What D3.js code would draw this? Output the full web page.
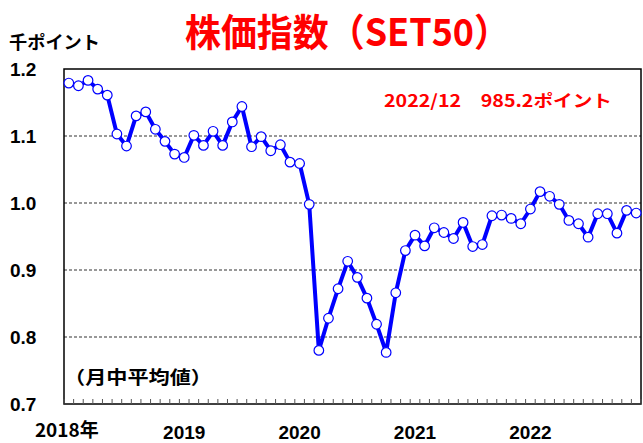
<!DOCTYPE html>
<html>
<head>
<meta charset="utf-8">
<script src="https://cdn.jsdelivr.net/npm/d3@7"></script>
<style>
  body { margin: 0; background: #fff; }
  text { font-family: "Liberation Sans", "Noto Sans CJK JP", sans-serif; font-weight: bold; }
</style>
</head>
<body>
<svg id="chart" width="643" height="443"></svg>
<script>
// monthly averages, thousand points, 2018/01 .. 2022/12
var values2018 = [1.179, 1.175, 1.183, 1.170, 1.161, 1.103, 1.085, 1.130, 1.136, 1.110, 1.092, 1.073];
var values2019 = [1.068, 1.101, 1.086, 1.107, 1.086, 1.121, 1.144, 1.084, 1.099, 1.078, 1.087, 1.061];
var values2020 = [1.059, 0.998, 0.780, 0.828, 0.872, 0.913, 0.889, 0.858, 0.819, 0.777, 0.866, 0.929];
var values2021 = [0.952, 0.936, 0.963, 0.956, 0.947, 0.971, 0.935, 0.938, 0.981, 0.982, 0.977, 0.969];
var values2022 = [0.991, 1.017, 1.010, 0.998, 0.974, 0.969, 0.949, 0.984, 0.984, 0.955, 0.989, 0.985];
var yearLabels = ["2018年", "2019", "2020", "2021", "2022"];
var yTicks = [0.7, 0.8, 0.9, 1.0, 1.1, 1.2];

var values = [].concat(values2018, values2019, values2020, values2021, values2022);
var months = d3.range(values.length);

var svg = d3.select("#chart");
var pLeft = 64, pRight = 641, pTop = 69, pBottom = 404;

var x = d3.scaleBand().domain(months).range([pLeft, pRight]);
var y = d3.scaleLinear().domain([0.7, 1.2]).range([pBottom, pTop]);

// title
svg.append("text")
  .attr("x", 185).attr("y", 46)
  .attr("fill", "#ff0000")
  .attr("textLength", 325)
  .attr("lengthAdjust", "spacingAndGlyphs")
  .style("font-family", "'Noto Sans CJK JP'")
  .style("font-size", "38px")
  .text("株価指数（SET50）");

svg.append("text")
  .attr("x", 9).attr("y", 49)
  .attr("textLength", 91)
  .attr("lengthAdjust", "spacingAndGlyphs")
  .style("font-family", "'Noto Sans CJK JP'")
  .style("font-size", "18px")
  .text("千ポイント");

// gridlines
svg.append("g").selectAll("line")
  .data(yTicks.filter(function(d){ return d > 0.75 && d < 1.15; }))
  .enter().append("line")
  .attr("x1", pLeft).attr("x2", pRight)
  .attr("y1", function(d){ return y(d); })
  .attr("y2", function(d){ return y(d); })
  .attr("stroke", "#777")
  .attr("stroke-width", 1.5)
  .attr("stroke-dasharray", "3,2");

// plot frame
svg.append("rect")
  .attr("x", pLeft).attr("y", pTop)
  .attr("width", pRight - pLeft).attr("height", pBottom - pTop)
  .attr("fill", "none")
  .attr("stroke", "#000")
  .attr("stroke-width", 1.5);

// month ticks on the bottom edge
svg.append("g").selectAll("line")
  .data(d3.range(values.length + 1))
  .enter().append("line")
  .attr("x1", function(d){ return pLeft + d * x.step(); })
  .attr("x2", function(d){ return pLeft + d * x.step(); })
  .attr("y1", pBottom).attr("y2", pBottom - 5)
  .attr("stroke", "#555")
  .attr("stroke-width", 1);

// y tick labels
svg.append("g").selectAll("text")
  .data(yTicks)
  .enter().append("text")
  .attr("x", 10)
  .attr("y", function(d){ return y(d) + 7; })
  .style("font-size", "19px")
  .text(function(d){ return d3.format(".1f")(d); });

// year labels at each January
svg.append("g").selectAll("text")
  .data(yearLabels)
  .enter().append("text")
  .attr("x", function(d, i){ return x(i * 12) + x.bandwidth() / 2 + (i === 0 ? -2 : 0); })
  .attr("y", function(d, i){ return i === 0 ? 437 : 439; })
  .attr("text-anchor", "middle")
  .style("font-family", function(d, i){ return i === 0 ? "'Noto Sans CJK JP'" : null; })
  .style("font-size", "19px")
  .text(function(d){ return d; });

// line + markers
var line = d3.line()
  .x(function(d, i){ return x(i) + x.bandwidth() / 2; })
  .y(function(d){ return y(d); });

svg.append("path")
  .datum(values)
  .attr("d", line)
  .attr("fill", "none")
  .attr("stroke", "#0000ff")
  .attr("stroke-width", 4)
  .attr("stroke-linejoin", "round");

svg.append("g").selectAll("circle")
  .data(values)
  .enter().append("circle")
  .attr("cx", function(d, i){ return x(i) + x.bandwidth() / 2; })
  .attr("cy", function(d){ return y(d); })
  .attr("r", 4.8)
  .attr("fill", "#fff")
  .attr("stroke", "#0000ff")
  .attr("stroke-width", 1.2);

// annotations
svg.append("text")
  .attr("x", 384).attr("y", 107)
  .attr("fill", "#ff0000")
  .attr("textLength", 228)
  .attr("lengthAdjust", "spacingAndGlyphs")
  .style("font-family", "'Noto Sans CJK JP'")
  .style("font-size", "17px")
  .text("2022/12　985.2ポイント");

svg.append("text")
  .attr("x", 64).attr("y", 384)
  .attr("textLength", 148)
  .attr("lengthAdjust", "spacingAndGlyphs")
  .style("font-family", "'Noto Sans CJK JP'")
  .style("font-size", "18px")
  .text("（月中平均値）");
</script>
</body>
</html>
